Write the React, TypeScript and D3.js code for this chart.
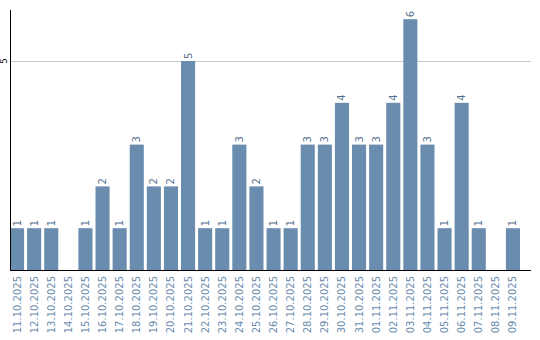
import React from "react";
import * as d3 from "d3";

const categories = ["11.10.2025","12.10.2025","13.10.2025","14.10.2025","15.10.2025","16.10.2025","17.10.2025","18.10.2025","19.10.2025","20.10.2025","21.10.2025","22.10.2025","23.10.2025","24.10.2025","25.10.2025","26.10.2025","27.10.2025","28.10.2025","29.10.2025","30.10.2025","31.10.2025","01.11.2025","02.11.2025","03.11.2025","04.11.2025","05.11.2025","06.11.2025","07.11.2025","08.11.2025","09.11.2025"];
const values = [1,1,1,0,1,2,1,3,2,2,5,1,1,3,2,1,1,3,3,4,3,3,4,6,3,1,4,1,0,1];
const yTicks = [5];

const W = 540, H = 340;
const left = 10, right = 520, top = 10, bottom = 270;
const barColor = "#6a8cae";
const labelColor = "#6a8cae";
const valueColor = "#55708e";

export default function App() {
  const x = d3.scaleBand<string>().domain(categories).range([left, right]).paddingInner(3 / 17).paddingOuter(0).align(0);
  const y = d3.scaleLinear().domain([0, 6]).range([bottom, bottom - 6 * 41.8]);
  const font = "'DejaVu Sans', sans-serif";
  return (
    <svg width={W} height={H} style={{ position: "absolute", left: 0, top: 0 }}>
      {yTicks.map((t) => (
        <g key={t}>
          <line x1={left} x2={531} y1={y(t) + 0.5} y2={y(t) + 0.5} stroke="#c8c8c8" strokeWidth={1} />
          <text transform={`translate(7,${y(t)}) rotate(-90)`} textAnchor="middle" fontSize={8} fontFamily={font} fill="#000">{t}</text>
        </g>
      ))}
      {categories.map((c, i) => {
        const v = values[i];
        const bx = x(c)!;
        const cx = bx + x.bandwidth() / 2;
        return (
          <g key={c}>
            {v > 0 && <rect x={bx} y={y(v)} width={x.bandwidth()} height={bottom - y(v)} fill={barColor} />}
            {v > 0 && (
              <text transform={`translate(${cx + 3.5},${y(v) - 2}) rotate(-90)`} textAnchor="start" fontSize={10} fontFamily={font} fill={valueColor}>{v}</text>
            )}
            <text transform={`translate(${cx + 3.5},${bottom + 6}) rotate(-90)`} textAnchor="end" fontSize={10} fontFamily={font} fill={labelColor}>{c}</text>
          </g>
        );
      })}
      <line x1={left + 0.5} x2={left + 0.5} y1={top} y2={bottom} stroke="#000" strokeWidth={1} />
      <line x1={left} x2={531} y1={bottom + 0.5} y2={bottom + 0.5} stroke="#000" strokeWidth={1} />
    </svg>
  );
}
